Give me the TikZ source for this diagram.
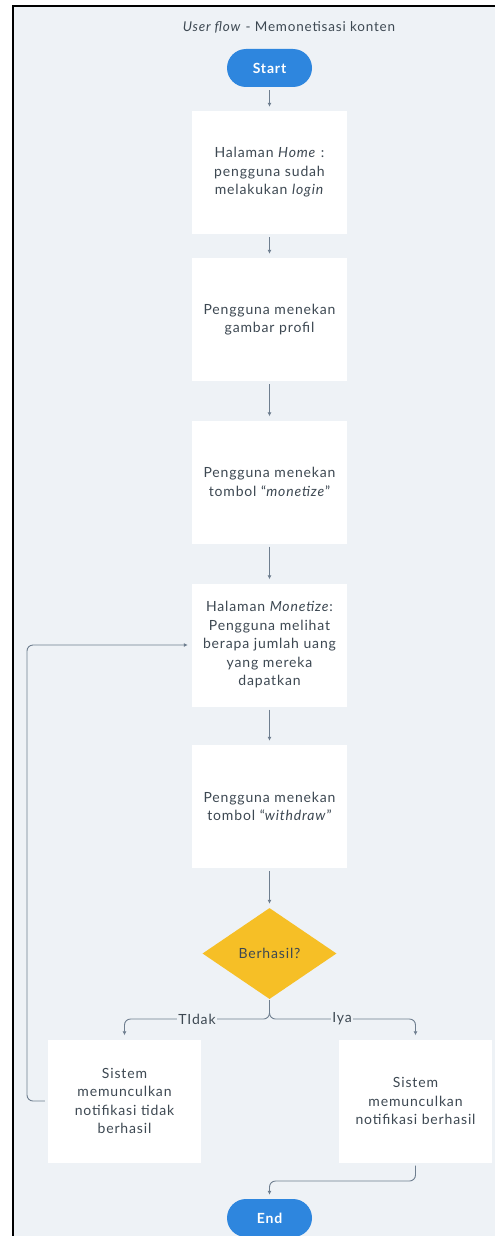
\documentclass[tikz,border=0pt]{standalone}
\usepackage{fontspec}
\setmainfont{Lato}[LetterSpace=6]
\usetikzlibrary{shapes.geometric,arrows.meta}
\definecolor{bgflow}{HTML}{EEF2F6}
\definecolor{txtflow}{HTML}{3D4852}
\definecolor{lineflow}{HTML}{6E7E8F}
\definecolor{blueflow}{HTML}{2E86DE}
\definecolor{yellowflow}{HTML}{F6BF26}
\begin{document}
\begin{tikzpicture}[x=1pt, y=-1pt,
  every node/.style={font=\fontsize{14}{18.5}\selectfont, text=txtflow},
  box/.style={rectangle, fill=white, minimum width=155pt, minimum height=123pt, text width=150pt, align=center, inner sep=0pt},
  term/.style={rectangle, rounded corners=19pt, fill=blueflow, minimum width=85pt, minimum height=38pt, text=white, font=\fontsize{14}{16}\selectfont\bfseries},
  choice/.style={diamond, fill=yellowflow, minimum width=134pt, minimum height=91pt, inner sep=0pt},
  lbl/.style={fill=bgflow, inner sep=1pt},
  flow/.style={draw=lineflow, line width=0.9pt, -{Latex[length=4pt,width=4pt]}, shorten <=3pt, shorten >=4pt}]
\useasboundingbox (0,0) rectangle (495,1236);
\fill[bgflow] (13,6) rectangle (495,1236);
\draw[black, line width=1.5pt] (13,1236) -- (13,6) -- (495,6);
\node (title) at (289,27) {\fontsize{13.5}{15}\selectfont\textit{User flow} - Memonetisasi konten};
\node[term] (start) at (269.5,68) {Start};
\node[box] (home) at (269.5,172.5) {Halaman \textit{Home} :\\pengguna sudah\\melakukan \textit{login}};
\node[box] (profil) at (269.5,319.5) {Pengguna menekan\\gambar profil};
\node[box] (monet) at (269.5,482) {Pengguna menekan\\tombol “\textit{monetize}”};
\node[box] (halmon) at (269.5,645) {Halaman \textit{Monetize}:\\Pengguna melihat\\berapa jumlah uang\\yang mereka\\dapatkan};
\node[box] (withdraw) at (269.5,806.5) {Pengguna menekan\\tombol “\textit{withdraw}”};
\node[choice] (berhasil) at (269.5,953.5) {Berhasil?};
\node[box, minimum width=153pt] (gagal) at (124.5,1101) {Sistem\\memunculkan\\notifikasi tidak\\berhasil};
\node[box, minimum width=153pt] (sukses) at (415.5,1101) {Sistem\\memunculkan\\notifikasi berhasil};
\node[term] (end) at (269.5,1218) {End};
% main line
\draw[flow] (start) -- (home);
\draw[flow] (home) -- (profil);
\draw[flow] (profil) -- (monet);
\draw[flow] (monet) -- (halmon);
\draw[flow] (halmon) -- (withdraw);
\draw[flow] (withdraw) -- (berhasil);
% branches
\draw[flow, rounded corners=6pt, shorten <=1pt] (berhasil.south) -- (269.5,1019) -- (124.5,1019) -- (gagal.north);
\draw[flow, rounded corners=6pt, shorten <=1pt] (berhasil.south) -- (269.5,1019) -- (415.5,1019) -- (sukses.north);
\node[lbl] (tidak) at (197,1019) {TIdak};
\node[lbl] (iya) at (342,1019) {Iya};
% back to monetize page
\draw[flow, rounded corners=6pt] (gagal.west) -- (27,1101) -- (27,645) -- (halmon.west);
\draw[flow, rounded corners=6pt] (sukses.south) -- (415.5,1181) -- (269.5,1181) -- (end.north);
\end{tikzpicture}
\end{document}
